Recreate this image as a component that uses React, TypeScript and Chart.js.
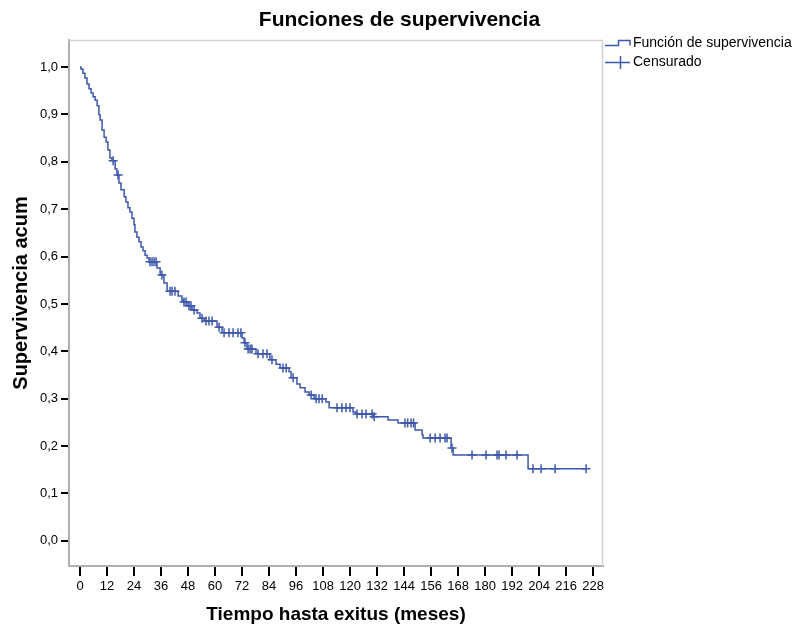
import React, { useEffect, useRef } from 'react';
import { Chart, registerables } from 'chart.js';

Chart.register(...registerables);

// Kaplan-Meier step curve: event times (months) and survival after each drop
const eventTimes = [
  0, 0.4, 1.3, 2.2, 3.1, 4.0, 4.9, 5.8, 6.7, 7.6, 8.4, 8.9, 9.8, 10.7, 11.6, 12.4, 13.3, 14.2,
  15.6, 16.4, 17.3, 18.2, 19.6, 20.4, 21.3, 22.2, 23.1, 24.0, 24.4, 25.3, 26.2, 27.1, 28.0, 28.9,
  29.8, 30.7, 34.2, 35.6, 37.3, 38.7, 43.6, 45.3, 45.8, 48.0, 49.8, 52.0, 53.3, 55.1, 60.9, 63.1,
  72.0, 72.9, 74.2, 78.2, 84.4, 87.1, 88.9, 92.9, 93.8, 96.4, 97.8, 100.0, 101.8, 104.0, 109.3,
  110.7, 121.3, 122.7, 130.2, 136.9, 141.3, 148.9, 152.0, 152.4, 164.9, 165.8, 199.1,
];
const eventSurvival = [
  1.0, 0.996, 0.987, 0.977, 0.964, 0.954, 0.945, 0.937, 0.93, 0.918, 0.899, 0.888, 0.867, 0.852,
  0.842, 0.825, 0.808, 0.802, 0.785, 0.772, 0.755, 0.741, 0.726, 0.715, 0.703, 0.694, 0.681, 0.667,
  0.652, 0.641, 0.631, 0.62, 0.612, 0.603, 0.597, 0.589, 0.576, 0.561, 0.544, 0.527, 0.517, 0.508,
  0.504, 0.496, 0.487, 0.481, 0.47, 0.464, 0.451, 0.439, 0.428, 0.418, 0.405, 0.395, 0.382, 0.373,
  0.365, 0.357, 0.344, 0.331, 0.323, 0.314, 0.308, 0.3, 0.293, 0.281, 0.272, 0.268, 0.262, 0.255,
  0.249, 0.234, 0.224, 0.217, 0.196, 0.181, 0.152,
];
// Censored observations (months)
const censorTimes = [
  14.7, 16.9, 31.1, 32.0, 32.9, 33.8, 36.4, 40.0, 40.9, 42.2, 46.2, 47.1, 48.4, 49.3, 50.7, 54.2,
  56.0, 57.3, 58.7, 61.8, 64.0, 66.2, 68.0, 70.2, 71.5, 73.3, 74.7, 75.6, 76.4, 79.1, 81.3, 83.1,
  85.3, 90.2, 91.6, 94.7, 102.7, 104.9, 106.2, 107.6, 114.2, 116.4, 118.2, 120.0, 123.1, 125.3,
  127.1, 129.8, 130.7, 144.4, 145.6, 147.1, 148.2, 155.6, 157.8, 160.0, 162.2, 163.1, 165.3, 174.2,
  180.4, 185.3, 186.2, 189.3, 194.2, 201.3, 204.9, 211.1, 224.9,
];
const xTicks = [0, 12, 24, 36, 48, 60, 72, 84, 96, 108, 120, 132, 144, 156, 168, 180, 192, 204, 216, 228];
const yTicks = [0, 0.1, 0.2, 0.3, 0.4, 0.5, 0.6, 0.7, 0.8, 0.9, 1.0];

const titleText = 'Funciones de supervivencia';
const xTitle = 'Tiempo hasta exitus (meses)';
const yTitle = 'Supervivencia acum';
const legendLabels = ['Función de supervivencia', 'Censurado'];

const BLUE = '#3e58ac';
const FONT = '"Liberation Sans", Arial, Helvetica, sans-serif';

function survivalAt(t: number): number {
  let s = eventSurvival[0];
  for (let i = 0; i < eventTimes.length; i++) {
    if (eventTimes[i] <= t) s = eventSurvival[i];
  }
  return s;
}

const decorPlugin = {
  id: 'decor',
  afterDraw(chart: any) {
    const { ctx, chartArea } = chart;
    const { left, right, top, bottom } = chartArea;
    ctx.save();
    // light frame top / right
    ctx.strokeStyle = '#d2d2d2';
    ctx.lineWidth = 1.5;
    ctx.beginPath();
    ctx.moveTo(left, top + 0.5);
    ctx.lineTo(right - 0.5, top + 0.5);
    ctx.lineTo(right - 0.5, bottom);
    ctx.stroke();

    // title
    ctx.fillStyle = '#000';
    ctx.font = `bold 21px ${FONT}`;
    ctx.textAlign = 'center';
    ctx.textBaseline = 'middle';
    ctx.fillText(titleText, chart.width / 2, 20);

    // y axis title
    ctx.save();
    ctx.translate(21, 293);
    ctx.rotate(-Math.PI / 2);
    ctx.font = `bold 20px ${FONT}`;
    ctx.textAlign = 'center';
    ctx.textBaseline = 'middle';
    ctx.fillText(yTitle, 0, 0);
    ctx.restore();

    // legend
    const lx = right + 2;
    ctx.strokeStyle = BLUE;
    ctx.lineWidth = 1.5;
    ctx.beginPath();
    ctx.moveTo(lx, 45.5);
    ctx.lineTo(lx + 13.5, 45.5);
    ctx.lineTo(lx + 13.5, 40.5);
    ctx.lineTo(lx + 25, 40.5);
    ctx.lineTo(lx + 25, 45.5);
    ctx.stroke();
    ctx.beginPath();
    ctx.moveTo(lx, 62.5);
    ctx.lineTo(lx + 25, 62.5);
    ctx.moveTo(lx + 15.5, 56);
    ctx.lineTo(lx + 15.5, 69);
    ctx.stroke();

    ctx.fillStyle = '#000';
    ctx.font = `14px ${FONT}`;
    ctx.textAlign = 'left';
    ctx.textBaseline = 'middle';
    ctx.fillText(legendLabels[0], lx + 28, 43);
    ctx.fillText(legendLabels[1], lx + 28, 62);
    ctx.restore();
  },
};

export default function App() {
  const canvasRef = useRef<HTMLCanvasElement | null>(null);

  useEffect(() => {
    if (!canvasRef.current) return;
    const lineData = eventTimes.map((t, i) => ({ x: t, y: eventSurvival[i] }));
    const lastT = censorTimes[censorTimes.length - 1];
    lineData.push({ x: lastT, y: survivalAt(lastT) });
    const censorData = censorTimes.map((t) => ({ x: t, y: survivalAt(t) }));

    const chart = new Chart(canvasRef.current, {
      type: 'line',
      data: {
        datasets: [
          {
            label: legendLabels[0],
            data: lineData,
            borderColor: BLUE,
            borderWidth: 1.5,
            stepped: true,
            pointRadius: 0,
            fill: false,
          },
          {
            label: legendLabels[1],
            data: censorData,
            showLine: false,
            pointStyle: 'cross',
            pointRadius: 4.5,
            borderColor: BLUE,
            backgroundColor: BLUE,
            pointBorderWidth: 1.5,
          },
        ],
      },
      options: {
        responsive: false,
        animation: false,
        devicePixelRatio: 1,
        layout: { padding: { top: 40, right: 196, left: 0, bottom: 0 } },
        plugins: {
          legend: { display: false },
          title: { display: false },
          tooltip: { enabled: false },
        },
        scales: {
          x: {
            type: 'linear',
            min: -4.9,
            max: 232.4,
            afterBuildTicks: (s: any) => {
              s.ticks = xTicks.map((v) => ({ value: v }));
            },
            afterFit: (s: any) => {
              s.height = 62;
            },
            ticks: {
              autoSkip: false,
              maxRotation: 0,
              color: '#000',
              padding: 3,
              font: { family: FONT, size: 13 },
              callback: (v: any) => String(v),
            },
            grid: {
              drawOnChartArea: false,
              drawTicks: true,
              tickLength: 10,
              color: '#000',
              lineWidth: 2,
            },
            border: { display: true, color: '#b0b0b0', width: 2 },
            title: {
              display: true,
              text: xTitle,
              color: '#000',
              font: { family: FONT, size: 19, weight: 'bold' },
              padding: { top: 0, bottom: 2 },
            },
          },
          y: {
            type: 'linear',
            min: -0.053,
            max: 1.057,
            afterBuildTicks: (s: any) => {
              s.ticks = yTicks.map((v) => ({ value: v }));
            },
            afterFit: (s: any) => {
              s.width = 69;
            },
            ticks: {
              color: '#000',
              padding: 3,
              font: { family: FONT, size: 13 },
              callback: (v: any) => Number(v).toFixed(1).replace('.', ','),
            },
            grid: {
              drawOnChartArea: false,
              drawTicks: true,
              tickLength: 8,
              color: '#000',
              lineWidth: 2,
            },
            border: { display: true, color: '#b0b0b0', width: 2 },
            title: { display: false },
          },
        },
      },
      plugins: [decorPlugin],
    } as any);

    return () => chart.destroy();
  }, []);

  return (
    <div style={{ position: 'fixed', left: 0, top: 0, width: 799, height: 628, background: '#fff' }}>
      <canvas ref={canvasRef} width={799} height={628} style={{ display: 'block' }} />
    </div>
  );
}
